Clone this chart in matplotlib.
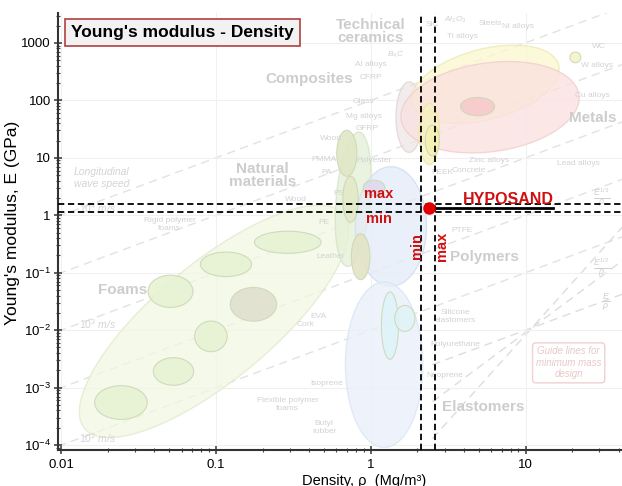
import numpy as np
import matplotlib
matplotlib.use('Agg')
import matplotlib.pyplot as plt

plt.rcParams['font.family'] = ['Liberation Sans', 'DejaVu Sans']
plt.rcParams['mathtext.fontset'] = 'custom'
plt.rcParams['mathtext.rm'] = 'Liberation Sans'
plt.rcParams['mathtext.it'] = 'Liberation Sans:italic'

# HYPOSAND window
rho_min, rho_max = 2.1, 2.6
E_min, E_max = 1.15, 1.6
rho_pt, E_pt = 2.38, 1.35
rho_line_end = 15.0

# faded background envelopes (centre density, centre E, half sizes in x-decades, tilt)
env_rho = [0.097, 0.77, 1.35, 1.22, 1.77, 5.5, 5.9, 2.39]
env_E = [0.0142, 1.9, 0.64, 0.0025, 51, 190, 76, 26]
env_a = [1.09, 0.11, 0.23, 0.25, 0.085, 0.49, 0.58, 0.065]
env_b = [0.38, 0.44, 0.39, 0.54, 0.23, 0.23, 0.29, 0.2]
env_ang = [40, -5, 0, 0, 0, 15, 8, 0]
env_fc = ['#f1f7e3', '#e4f0d6', '#e4ecf8', '#e9f0fa', '#efe6e6', '#fbf7cf', '#fbe0e0', '#f8f2bc']
env_ec = ['#e0eacb', '#d4e4c2', '#d0dcef', '#d8e4f3', '#e0d4d4', '#eee7b4', '#f0cccc', '#eee6a8']

# sub-families
sub_rho = [0.0243, 0.0531, 0.0927, 0.0508, 0.116, 0.291, 0.1745, 0.70, 0.74, 0.86, 1.33, 1.66, 1.05, 4.9, 21.0, 2.5]
sub_E = [5.5e-4, 1.91e-3, 7.8e-3, 0.0474, 0.14, 0.339, 0.0282, 12, 1.9, 0.19, 0.012, 0.016, 3.0, 78, 560, 20]
sub_a = [0.17, 0.13, 0.105, 0.145, 0.165, 0.215, 0.15, 0.065, 0.05, 0.06, 0.055, 0.065, 0.07, 0.11, 0.035, 0.045]
sub_b = [0.11, 0.09, 0.1, 0.105, 0.08, 0.072, 0.11, 0.15, 0.15, 0.15, 0.22, 0.085, 0.05, 0.06, 0.035, 0.1]
sub_fc = ['#e7f2d2'] * 6 + ['#e0e0ce', '#dfe7c6', '#e2eac8', '#e3e4c6', '#def3f8', '#e0f4f7', '#dedaf0', '#f7caca', '#f5f3c8', '#f5f1b4']

# wave speed guide lines, E/rho
wave_ratio = [100, 10, 1, 0.1, 0.01]
# minimum mass guide lines through one point
guide_rho0, guide_E0 = 11.0, 0.011
guide_slope = [1, 2, 3]

yticks = [1e-4, 1e-3, 1e-2, 1e-1, 1, 10, 100, 1000]
ylabels = ['$10^{-4}$', '$10^{-3}$', '$10^{-2}$', '$10^{-1}$', '1', '10', '100', '1000']
xticks = [0.01, 0.1, 1, 10]
xlabels = ['0.01', '0.1', '1', '10']

K = 153 / 57.4  # y decades per x decade on screen


def ellipse(rho, E, a, b, ang):
    t = np.linspace(0, 2 * np.pi, 200)
    u, v = a * np.cos(t), b * np.sin(t)
    th = np.radians(ang)
    X = u * np.cos(th) - v * np.sin(th)
    Y = u * np.sin(th) + v * np.cos(th)
    return 10 ** (np.log10(rho) + X), 10 ** (np.log10(E) + Y * K)


fig = plt.figure(figsize=(6.22, 4.86), dpi=100)
ax = fig.add_axes([0.093, 0.074, 0.93, 0.899])
ax.set_xscale('log')
ax.set_yscale('log')
ax.set_xlim(0.0095, 52)
ax.set_ylim(0.82e-4, 3300)

ax.grid(True, which='major', color='#f0f0f0', lw=0.8, zorder=0)

xx = np.array([0.0095, 52])
for r in wave_ratio:
    ax.plot(xx, r * xx, ls=(0, (6, 4)), color='#e2e2e2', lw=1, zorder=1)
for s in guide_slope:
    xg = np.array([2.5, 45])
    ax.plot(xg, guide_E0 * (xg / guide_rho0) ** s, ls=(0, (6, 4)), color='#dddddd', lw=1, zorder=1)

for i in range(len(env_rho)):
    x, y = ellipse(env_rho[i], env_E[i], env_a[i], env_b[i], env_ang[i])
    ax.fill(x, y, fc=env_fc[i], ec=env_ec[i], lw=1, alpha=0.75, zorder=2)
for i in range(len(sub_rho)):
    x, y = ellipse(sub_rho[i], sub_E[i], sub_a[i], sub_b[i], 0)
    ax.fill(x, y, fc=sub_fc[i], ec='#ccd8b6', lw=0.8, alpha=0.9, zorder=3)

big = dict(color='#cdcdcd', fontweight='bold', fontsize=11, zorder=4)
ax.text(0.025, 0.05, 'Foams', ha='center', va='center', **big)
ax.text(0.2, 5.0, 'Natural\nmaterials', ha='center', va='center', linespacing=0.9, **big)
ax.text(0.4, 240, 'Composites', ha='center', va='center', **big)
ax.text(1.0, 1600, 'Technical\nceramics', ha='center', va='center', linespacing=0.9, **big)
ax.text(27, 50, 'Metals', ha='center', va='center', **big)
ax.text(5.4, 0.19, 'Polymers', ha='center', va='center', **big)
ax.text(5.3, 4.6e-4, 'Elastomers', ha='center', va='center', **big)

small = dict(color='#d2d2d2', fontsize=6, zorder=4, ha='center', va='center')
for txt, xr, yr in [('Rigid polymer\nfoams', 0.05, 0.7), ('Flexible polymer\nfoams', 0.29, 5e-4),
                    ('Cork', 0.38, 0.0125), ('Leather', 0.55, 0.19), ('EVA', 0.46, 0.017),
                    ('Isoprene', 0.52, 1.2e-3), ('Butyl\nrubber', 0.5, 2.0e-4),
                    ('Silicone\nelastomers', 3.5, 0.017), ('Polyurethane', 3.5, 5.7e-3),
                    ('Neoprene', 3.0, 1.6e-3), ('PTFE', 3.9, 0.55), ('PEEK', 2.9, 5.5),
                    ('Concrete', 4.3, 6.0), ('Zinc alloys', 5.8, 9.0), ('Lead alloys', 22, 8.0),
                    ('Cu alloys', 27, 120), ('W alloys', 29, 400), ('WC', 30, 880),
                    ('Ni alloys', 9.0, 1900), ('Steels', 5.9, 2200), ('Ti alloys', 3.9, 1300),
                    ('Al alloys', 1.0, 420), ('CFRP', 1.0, 250), ('Glass', 0.9, 95),
                    ('Mg alloys', 0.9, 52), ('GFRP', 0.95, 33), ('Polyester', 1.05, 9.0),
                    ('Wood', 0.55, 22), ('PMMA', 0.5, 9.5), ('PA', 0.52, 5.5), ('PS', 0.62, 2.4),
                    ('PE', 0.5, 0.75), ('Wood', 0.33, 1.9), ('$B_4C$', 1.45, 610), ('SiC', 2.5, 2100),
                    ('$Al_2O_3$', 3.5, 2500)]:
    ax.text(xr, yr, txt, **small)

ital = dict(color='#d4d4d4', fontsize=7.5, style='italic', zorder=4)
ax.text(0.012, 4.5, 'Longitudinal\nwave speed', ha='left', va='center', **ital)
ax.text(0.013, 1.35, '$10^4$ m/s', ha='left', va='center', **ital)
ax.text(0.013, 0.013, '$10^3$ m/s', ha='left', va='center', **ital)
ax.text(0.013, 1.3e-4, '$10^2$ m/s', ha='left', va='center', **ital)
ax.text(19, 2.7e-3, 'Guide lines for\nminimum mass\ndesign', ha='center', va='center',
        color='#e8c8c8', fontsize=7, style='italic', zorder=4,
        bbox=dict(boxstyle='round,pad=0.35', fc='white', ec='#f0d0d0', lw=1))
ax.text(31, 2.0, r'$\frac{E^{1/3}}{\rho}$', color='#d0d0d0', fontsize=9, ha='center', va='center')
ax.text(31, 0.12, r'$\frac{E^{1/2}}{\rho}$', color='#d0d0d0', fontsize=9, ha='center', va='center')
ax.text(33, 0.03, r'$\frac{E}{\rho}$', color='#d0d0d0', fontsize=9, ha='center', va='center')

# HYPOSAND window
dash = (0, (3.5, 2))
ax.axhline(E_max, color='black', ls=dash, lw=1.3, zorder=5)
ax.axhline(E_min, color='black', ls=dash, lw=1.3, zorder=5)
ax.axvline(rho_min, color='black', ls=dash, lw=1.3, zorder=5)
ax.axvline(rho_max, color='black', ls=dash, lw=1.3, zorder=5)
ax.plot([rho_pt, rho_line_end], [E_pt, E_pt], color='black', lw=2, zorder=6)
ax.plot(rho_pt, E_pt, 'o', color='#e00000', ms=8, zorder=7)

red = dict(color='#d01010', fontweight='bold', zorder=8)
ax.text(1.13, 2.3, 'max', fontsize=10.5, ha='center', va='center', **red)
ax.text(1.13, 0.85, 'min', fontsize=10.5, ha='center', va='center', **red)
ax.text(2.0, 0.29, 'min', fontsize=10.5, rotation=90, ha='center', va='center', **red)
ax.text(2.87, 0.29, 'max', fontsize=10.5, rotation=90, ha='center', va='center', **red)
ax.text(7.7, 1.9, 'HYPOSAND', fontsize=11.5, ha='center', va='center', **red)

ax.text(0.0115, 1500, "Young's modulus - Density", fontsize=12.5, fontweight='bold',
        ha='left', va='center', zorder=9,
        bbox=dict(boxstyle='square,pad=0.35', fc='#f2f2f2', ec='#b04040', lw=1.2))

ax.set_xticks(xticks)
ax.set_xticklabels(xlabels)
ax.set_yticks(yticks)
ax.set_yticklabels(ylabels)
ax.tick_params(which='major', direction='inout', length=6, width=1.2, labelsize=9.5, color='#444444')
ax.tick_params(axis='y', which='major', pad=2)
ax.tick_params(which='minor', direction='inout', length=3, width=0.8, color='#444444')
ax.yaxis.set_minor_locator(matplotlib.ticker.LogLocator(base=10, subs=np.arange(2, 10), numticks=20))
ax.xaxis.set_minor_locator(matplotlib.ticker.LogLocator(base=10, subs=np.arange(2, 10), numticks=20))
ax.yaxis.set_minor_formatter(matplotlib.ticker.NullFormatter())
ax.xaxis.set_minor_formatter(matplotlib.ticker.NullFormatter())
for s in ['top', 'right']:
    ax.spines[s].set_visible(False)
for s in ['left', 'bottom']:
    ax.spines[s].set_linewidth(1.5)
    ax.spines[s].set_color('#333333')

ax.set_ylabel("Young's modulus, E (GPa)", fontsize=12.5)
ax.yaxis.set_label_coords(-0.066, 0.52)
ax.set_xlabel('Density, ρ  (Mg/m³)', fontsize=10.5)
ax.xaxis.set_label_coords(0.53, -0.055)

fig.savefig('out.png', dpi=100)
